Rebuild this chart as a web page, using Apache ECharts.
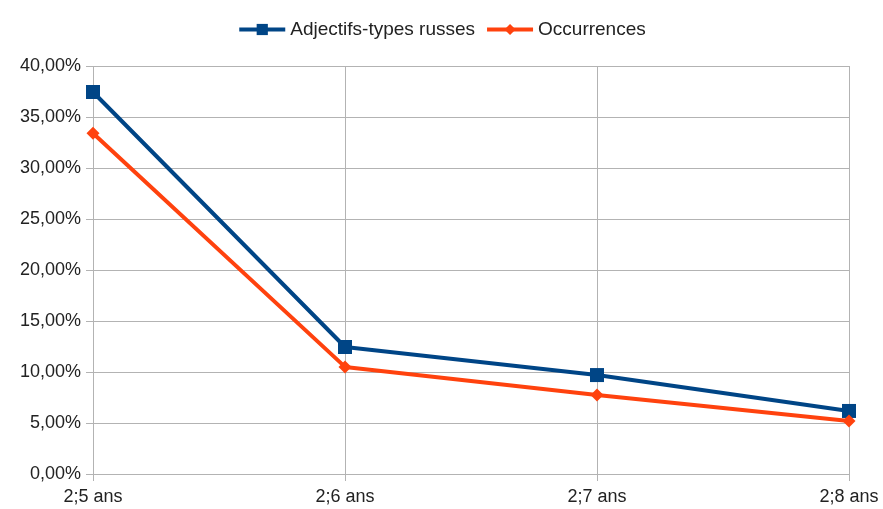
<!DOCTYPE html>
<html>
<head>
<meta charset="utf-8">
<script src="https://cdn.jsdelivr.net/npm/echarts@6/dist/echarts.min.js"></script>
<style>
  html, body { margin: 0; padding: 0; background: #fff; }
  #chart { width: 883px; height: 509px; }
</style>
</head>
<body>
<div id="chart"></div>
<script>
// ages (x categories)
const categories = ['2;5 ans', '2;6 ans', '2;7 ans', '2;8 ans'];
// values in percent
const adjectifs = [37.45, 12.45, 9.7, 6.18];
const occurrences = [33.4, 10.5, 7.75, 5.2];
const seriesNames = ['Adjectifs-types russes', 'Occurrences'];

const myChart = echarts.init(document.getElementById('chart'), null, { renderer: 'canvas' });

const fmt = v => v.toFixed(2).replace('.', ',') + '%';

const option = {
    animation: false,
    textStyle: { fontFamily: 'Liberation Sans' },
    legend: {
        top: 15,
        left: 'center',
        itemWidth: 46,
        itemHeight: 14,
        itemGap: 10,
        lineStyle: { width: 4 },
        textStyle: { fontSize: 19, color: '#222', fontFamily: 'Liberation Sans', padding: [0, 0, 0, 0] },
        data: seriesNames
    },
    grid: { left: 93, right: 34, top: 66, bottom: 35 },
    xAxis: {
        type: 'category',
        data: categories,
        boundaryGap: false,
        axisLine: { show: true, lineStyle: { color: '#b3b3b3', width: 1 } },
        axisTick: { show: true, alignWithLabel: true, length: 7, lineStyle: { color: '#b3b3b3' } },
        splitLine: { show: true, lineStyle: { color: '#b3b3b3', width: 1 } },
        axisLabel: { fontSize: 18, color: '#222', margin: 14 }
    },
    yAxis: {
        type: 'value',
        min: 0,
        max: 40,
        interval: 5,
        axisLine: { show: false },
        axisTick: { show: true, length: 7, lineStyle: { color: '#b3b3b3' } },
        splitLine: { show: true, lineStyle: { color: '#b3b3b3', width: 1 } },
        axisLabel: { fontSize: 18, color: '#222', margin: 12, formatter: fmt }
    },
    series: [
        {
            name: seriesNames[0],
            type: 'line',
            data: adjectifs,
            symbol: 'rect',
            symbolSize: 14,
            color: '#004586',
            lineStyle: { width: 4, color: '#004586' },
            itemStyle: { color: '#004586' },
            z: 3
        },
        {
            name: seriesNames[1],
            type: 'line',
            data: occurrences,
            symbol: 'diamond',
            symbolSize: 13,
            color: '#ff420e',
            lineStyle: { width: 4, color: '#ff420e' },
            itemStyle: { color: '#ff420e' },
            z: 4
        }
    ]
};

myChart.setOption(option, true);
</script>
</body>
</html>
